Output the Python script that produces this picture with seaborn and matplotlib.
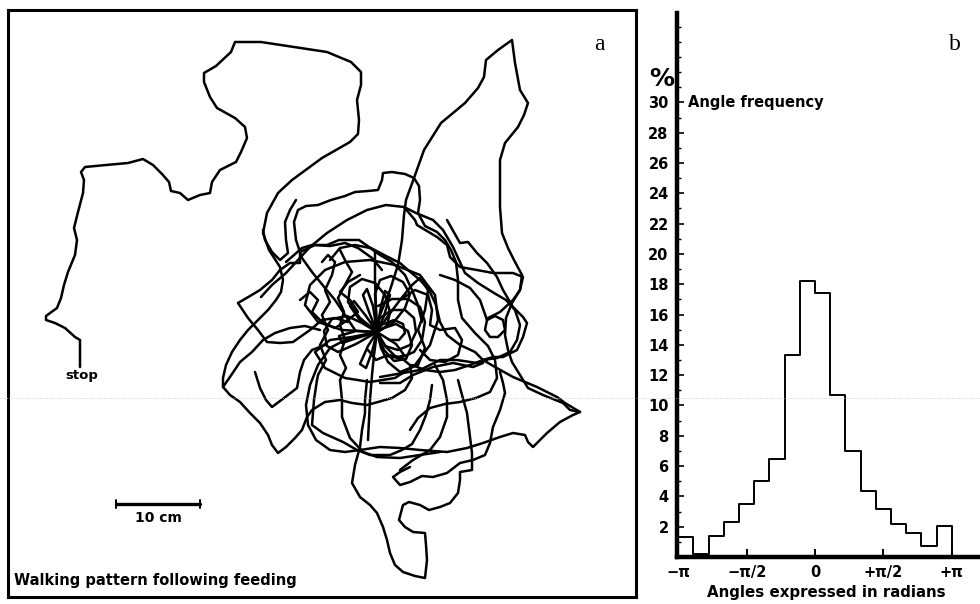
import matplotlib
matplotlib.use('Agg')
import matplotlib.pyplot as plt
from matplotlib.lines import Line2D
from matplotlib.ticker import MultipleLocator
import numpy as np
import seaborn as sns

sns.set_theme(style='white')
plt.rcParams['font.family'] = ['DejaVu Sans']
plt.rcParams['text.color'] = 'black'
plt.rcParams['xtick.color'] = 'black'
plt.rcParams['ytick.color'] = 'black'
plt.rcParams['axes.labelcolor'] = 'black'

# ---- panel b: angle frequency (%), 20 degree bins from -180 to +180 ----
bin_centers_deg = [-170, -150, -130, -110, -90, -70, -50, -30, -10,
                   10, 30, 50, 70, 90, 110, 130, 150, 170]
angle_freq = [1.3, 0.2, 1.4, 2.3, 3.5, 5.0, 6.5, 13.3, 18.2,
              17.4, 10.7, 7.0, 4.35, 3.15, 2.2, 1.6, 0.7, 2.05]
bin_edges_deg = [-180, -160, -140, -120, -100, -80, -60, -40, -20, 0,
                 20, 40, 60, 80, 100, 120, 140, 160, 180]
xtick_pos = [-np.pi, -np.pi / 2, 0, np.pi / 2, np.pi]
xtick_labels = ['−π', '−π/2', '0', '+π/2', '+π']
ytick_pos = [2, 4, 6, 8, 10, 12, 14, 16, 18, 20, 22, 24, 26, 28, 30]

# ---- panel a: digitised walking track (drawing units, 84 units = 10 cm) ----
scale_bar = [(116, 504), (200, 504)]

track_stop = [(80, 367), (80, 352), (80, 340), (75, 337), (65, 328), (55, 323), (46, 320), (46, 316),
              (57, 308), (61, 298), (64, 285), (68, 272), (75, 255), (77, 240), (74, 228), (78, 212),
              (83, 193), (84, 180), (81, 172), (85, 167), (106, 165), (128, 163), (143, 159), (153, 165),
              (162, 174), (169, 182), (171, 191), (180, 193), (188, 200), (200, 195), (210, 193), (212, 182),
              (220, 170), (236, 162), (241, 152), (247, 138), (245, 127), (235, 118), (217, 108), (210, 97),
              (204, 82), (204, 73), (216, 66), (231, 52), (235, 42), (261, 42), (294, 47), (327, 52),
              (351, 62), (361, 72), (361, 85), (357, 100), (359, 120), (358, 134), (350, 142), (322, 158),
              (292, 180), (278, 193), (267, 213), (263, 233), (269, 250), (280, 267), (283, 280), (281, 292),
              (276, 300), (268, 310), (258, 320), (248, 330), (240, 340), (232, 352), (226, 365), (223, 378),
              (223, 387), (230, 395), (240, 402), (250, 413), (260, 423), (268, 435), (272, 445), (278, 453),
              (286, 447), (295, 438), (302, 430), (307, 417), (312, 410), (325, 402), (340, 400), (352, 403),
              (367, 405), (378, 402), (392, 398), (405, 390), (412, 378), (410, 365), (400, 357), (388, 355),
              (376, 360), (368, 350)]
track_north = [(377, 332), (380, 315), (390, 290), (398, 265), (402, 240), (404, 215), (406, 200), (414, 178),
               (424, 150), (441, 123), (465, 103), (478, 88), (484, 77), (486, 60), (498, 50), (512, 40),
               (515, 63), (520, 90), (528, 103), (524, 115), (518, 127), (505, 143), (500, 160), (500, 185),
               (500, 207), (502, 233), (508, 248), (514, 260), (522, 275), (520, 290), (512, 303), (506, 318),
               (505, 335), (508, 350), (512, 362), (520, 375), (528, 388), (543, 395), (563, 403), (570, 410),
               (580, 412), (573, 415), (560, 422), (547, 433), (533, 447), (528, 442), (525, 435), (513, 433),
               (500, 437), (483, 443), (467, 448), (447, 452), (420, 450), (400, 448), (380, 447), (360, 450),
               (345, 452), (330, 450), (316, 440), (308, 425), (306, 405), (310, 385), (318, 365), (330, 348),
               (345, 340), (360, 336)]
track_knob = [(355, 330), (345, 315), (335, 300), (325, 288), (312, 272), (302, 258), (296, 240), (294, 222),
              (298, 210), (306, 206), (318, 205), (331, 200), (345, 196), (355, 192), (368, 191), (378, 190),
              (382, 180), (383, 173), (392, 172), (405, 174), (414, 178), (419, 186), (420, 200), (418, 213),
              (425, 226), (437, 232), (445, 240), (451, 250), (456, 262), (458, 280), (458, 300), (462, 318),
              (475, 333), (488, 346), (495, 360), (497, 378), (490, 392), (476, 398), (460, 402), (445, 404),
              (430, 408), (418, 418), (410, 430)]
track_dome1 = [(261, 297), (272, 285), (286, 273), (298, 260), (310, 247), (327, 233), (347, 220), (367, 210),
               (386, 205), (404, 207), (416, 213), (433, 220), (443, 230), (453, 247), (459, 260), (465, 273),
               (478, 283), (494, 293), (506, 300), (515, 310), (520, 325), (517, 340), (510, 352), (497, 358),
               (483, 360)]
track_dome2 = [(286, 262), (302, 248), (312, 245), (327, 245), (339, 240), (359, 240), (369, 247), (388, 257),
               (400, 263), (408, 270), (420, 280), (429, 290), (436, 305), (440, 322), (447, 335), (460, 345),
               (475, 352), (483, 360), (495, 367), (513, 377), (537, 387), (557, 397), (565, 403), (580, 412)]
track_east1 = [(447, 220), (460, 243), (468, 242), (477, 253), (487, 263), (497, 277), (503, 290), (513, 307),
               (523, 317), (527, 323), (523, 337), (517, 350), (503, 357), (493, 357), (483, 360), (470, 365),
               (455, 370), (440, 372), (425, 370), (412, 365)]
track_east2 = [(487, 320), (495, 316), (503, 320), (505, 330), (498, 337), (490, 337), (485, 330), (487, 320),
               (480, 300), (470, 288), (455, 280), (440, 275)]
track_east3 = [(404, 207), (415, 220), (417, 225), (437, 237), (447, 245), (450, 257), (460, 267), (477, 270),
               (493, 273), (513, 273), (523, 277), (520, 290), (513, 300), (500, 312), (488, 318)]
track_west1 = [(238, 303), (250, 296), (260, 290), (272, 280), (280, 270), (290, 263), (300, 263), (300, 252),
               (315, 245), (330, 246), (345, 243), (358, 248), (372, 258), (382, 270)]
track_west2 = [(238, 303), (248, 318), (258, 330), (267, 342), (280, 343), (293, 342), (310, 330), (322, 320),
               (335, 318), (348, 322)]
track_west3 = [(223, 387), (232, 374), (240, 362), (252, 352), (263, 340), (275, 333), (290, 328), (305, 326),
               (320, 330)]
track_west4 = [(255, 372), (260, 388), (266, 400), (272, 407), (284, 398), (297, 388), (300, 372), (304, 360),
               (312, 350), (325, 345)]
track_west5 = [(263, 230), (265, 240), (272, 252), (280, 260), (288, 253), (286, 240), (285, 222), (290, 210),
               (296, 200)]
track_tail = [(367, 380), (365, 400), (365, 413), (362, 430), (360, 447), (355, 465), (352, 483), (360, 497),
              (370, 505), (377, 513), (383, 527), (387, 540), (390, 553), (395, 565), (403, 572), (415, 576),
              (425, 578), (427, 560), (426, 545), (425, 533), (413, 532), (405, 527), (399, 520), (403, 505),
              (409, 502), (420, 505), (429, 510), (440, 507), (450, 503), (458, 493), (460, 480), (460, 472),
              (472, 470), (472, 453), (470, 437), (467, 413), (462, 395), (458, 380)]
track_south1 = [(317, 380), (314, 400), (312, 425), (323, 433), (343, 442), (357, 450), (370, 455), (390, 455),
                (402, 450), (412, 444), (420, 430), (426, 415), (430, 400), (432, 385)]
track_south2 = [(340, 380), (342, 400), (342, 417), (350, 438), (363, 452), (377, 457), (400, 458), (420, 455),
                (440, 452)]
track_south3 = [(410, 467), (400, 472), (393, 477), (400, 485), (410, 482), (422, 476), (433, 477), (447, 473),
                (460, 463), (473, 460), (485, 455), (490, 443), (493, 427), (500, 410), (505, 393), (503, 383),
                (500, 372)]
track_south4 = [(400, 470), (413, 460), (430, 450), (440, 437), (447, 417), (447, 400), (443, 380), (435, 365)]
track_inner1 = [(322, 262), (328, 255), (335, 262), (332, 275), (325, 290), (330, 302), (322, 315), (328, 330),
                (320, 345), (326, 360), (318, 375), (317, 380)]
track_inner2 = [(300, 300), (310, 292), (318, 300), (312, 312), (322, 322), (335, 328), (348, 320), (358, 312),
                (350, 300), (340, 292), (348, 282), (360, 275)]
track_inner3 = [(340, 250), (346, 262), (352, 272), (345, 285), (338, 298), (344, 312), (340, 325), (345, 340),
                (340, 355), (346, 368), (340, 380)]
track_inner4 = [(330, 260), (340, 248), (355, 245), (370, 248), (380, 255), (392, 262), (405, 275), (412, 290),
                (418, 305), (422, 322)]
track_inner5 = [(375, 252), (375, 280), (376, 310), (377, 332), (374, 355), (372, 375), (370, 400), (369, 420),
                (368, 440)]
track_inner6 = [(400, 300), (415, 290), (428, 295), (432, 310), (430, 325), (440, 330), (455, 328), (462, 340),
                (458, 355), (445, 362), (430, 360), (420, 350)]
track_inner7 = [(380, 377), (403, 373), (420, 370), (440, 360), (457, 360), (477, 363), (487, 360)]
track_inner8 = [(380, 383), (400, 383), (413, 375), (433, 367), (453, 363), (473, 367), (483, 363)]
track_core1 = [(377, 332), (360, 318), (348, 302), (350, 287), (362, 279), (375, 283), (385, 295), (390, 312),
               (387, 326), (377, 332), (394, 322), (405, 308), (410, 294), (403, 282), (391, 276),
               (380, 280), (375, 294), (376, 312), (377, 332)]
track_core2 = [(377, 332), (356, 344), (338, 352), (327, 346), (324, 331), (332, 319), (347, 316), (362, 323),
               (377, 332), (384, 350), (394, 361), (406, 359), (412, 345), (408, 331), (396, 324), (384, 328),
               (377, 332)]
track_core3 = [(377, 332), (342, 330), (318, 322), (305, 305), (310, 285), (325, 270), (345, 262), (370, 260),
               (395, 265), (420, 275), (435, 295), (438, 320), (430, 345), (415, 365), (395, 378), (370, 382),
               (345, 378), (325, 368), (315, 352), (330, 340), (352, 337), (377, 332)]
track_core4 = [(377, 332), (369, 312), (363, 295), (367, 289), (373, 306), (377, 332), (381, 306), (385, 291),
               (390, 295), (384, 316), (377, 332), (396, 344), (404, 355), (397, 358), (386, 347), (377, 332),
               (372, 352), (366, 368), (360, 364), (368, 346), (377, 332), (357, 338), (342, 343), (339, 336),
               (356, 331), (377, 332), (359, 319), (350, 306), (354, 301), (366, 316), (377, 332)]
track_core5 = [(377, 332), (388, 316), (400, 300), (412, 285), (420, 278), (428, 290), (425, 310), (418, 330),
               (425, 348), (418, 365), (400, 372), (388, 362), (381, 348), (377, 332)]
track_nest1 = [(380, 318), (392, 310), (405, 310), (414, 318), (416, 332), (410, 345), (398, 350), (385, 346)]
track_nest2 = [(378, 306), (392, 299), (408, 299), (420, 307), (425, 322), (422, 340), (414, 352), (400, 358),
               (386, 356)]
track_nest3 = [(384, 324), (394, 320), (403, 324), (405, 333), (399, 340), (389, 340)]

track_segments = [track_stop, track_north, track_knob, track_dome1, track_dome2, track_east1, track_east2,
                  track_east3, track_west1, track_west2, track_west3, track_west4, track_west5, track_tail,
                  track_south1, track_south2, track_south3, track_south4, track_inner1, track_inner2,
                  track_inner3, track_inner4, track_inner5, track_inner6, track_inner7, track_inner8,
                  track_core1, track_core2, track_core3, track_core4, track_core5,
                  track_nest1, track_nest2, track_nest3]

W, H = 980, 604
def fx(px):
    return px / W
def fy(py):
    return 1 - py / H

fig = plt.figure(figsize=(9.8, 6.04), dpi=100)
fig.patch.set_facecolor('white')

# panel a
axa = fig.add_axes([fx(8), fy(597), fx(636) - fx(8), fy(10) - fy(597)])
axa.set_xlim(8, 636)
axa.set_ylim(597, 10)
axa.set_xticks([])
axa.set_yticks([])
for sp in axa.spines.values():
    sp.set_linewidth(2.2)
    sp.set_color('black')
for seg in track_segments:
    xs, ys = np.array(seg).T
    axa.plot(xs, ys, color='black', lw=1.8, solid_joinstyle='round', solid_capstyle='round')

sb = np.array(scale_bar).T
axa.plot(sb[0], sb[1], color='black', lw=2.4)
for xe in sb[0]:
    axa.plot([xe, xe], [sb[1][0] - 4, sb[1][0] + 4], color='black', lw=1.4)
axa.text(158, 518, '10 cm', ha='center', va='center', fontsize=10, fontweight='bold')
axa.text(82, 375, 'stop', ha='center', va='center', fontsize=9.5, fontweight='bold')
axa.text(14, 580, 'Walking pattern following feeding', ha='left', va='center',
         fontsize=10.5, fontweight='bold')
axa.text(599, 45, 'a', ha='center', va='center', fontsize=17, family='Liberation Serif')

# panel b
axb = fig.add_axes([fx(677), fy(557), fx(980) - fx(677), fy(13) - fy(557)])
sns.histplot(x=list(np.deg2rad(bin_centers_deg)), weights=angle_freq,
             bins=[float(b) for b in np.deg2rad(bin_edges_deg)],
             element='step', fill=True, color='black', linewidth=1.4, ax=axb)
for coll in axb.collections:
    coll.set_facecolor('none')
    coll.set_edgecolor('black')
axb.set_xlim(-np.pi - 0.03, 3.79)
axb.set_ylim(0, 35.9)
axb.set_ylabel('')
axb.set_xlabel('')
axb.patch.set_alpha(0)
for side in ['top', 'right']:
    axb.spines[side].set_visible(False)
for side in ['left', 'bottom']:
    axb.spines[side].set_linewidth(3.2)
    axb.spines[side].set_color('black')
axb.set_yticks(ytick_pos)
axb.set_yticklabels([str(v) for v in ytick_pos], fontweight='bold', fontsize=10.5)
axb.yaxis.set_minor_locator(MultipleLocator(1))
axb.set_xticks(xtick_pos)
axb.set_xticklabels(xtick_labels, fontweight='bold', fontsize=10.5)
axb.tick_params(axis='y', which='major', direction='in', length=5, width=1.2, pad=6, left=True)
axb.tick_params(axis='y', which='minor', direction='in', length=3, width=1.0, left=True)
axb.tick_params(axis='x', which='major', direction='in', length=6, width=1.4, pad=6, bottom=True)
axb.grid(False)

fig.text(fx(662), fy(79), '%', ha='center', va='center', fontsize=18, fontweight='bold')
fig.text(fx(688), fy(103), 'Angle frequency', ha='left', va='center', fontsize=10.5, fontweight='bold')
fig.text(fx(826), fy(593), 'Angles expressed in radians', ha='center', va='center',
         fontsize=10.8, fontweight='bold')
fig.text(fx(955), fy(45), 'b', ha='center', va='center', fontsize=17, family='Liberation Serif')

# faint scan line across the page
fig.add_artist(Line2D([0, 1], [fy(398), fy(398)], color='#c8c8c8', lw=0.6, ls=':'))

fig.savefig('out.png', dpi=100, facecolor='white')
